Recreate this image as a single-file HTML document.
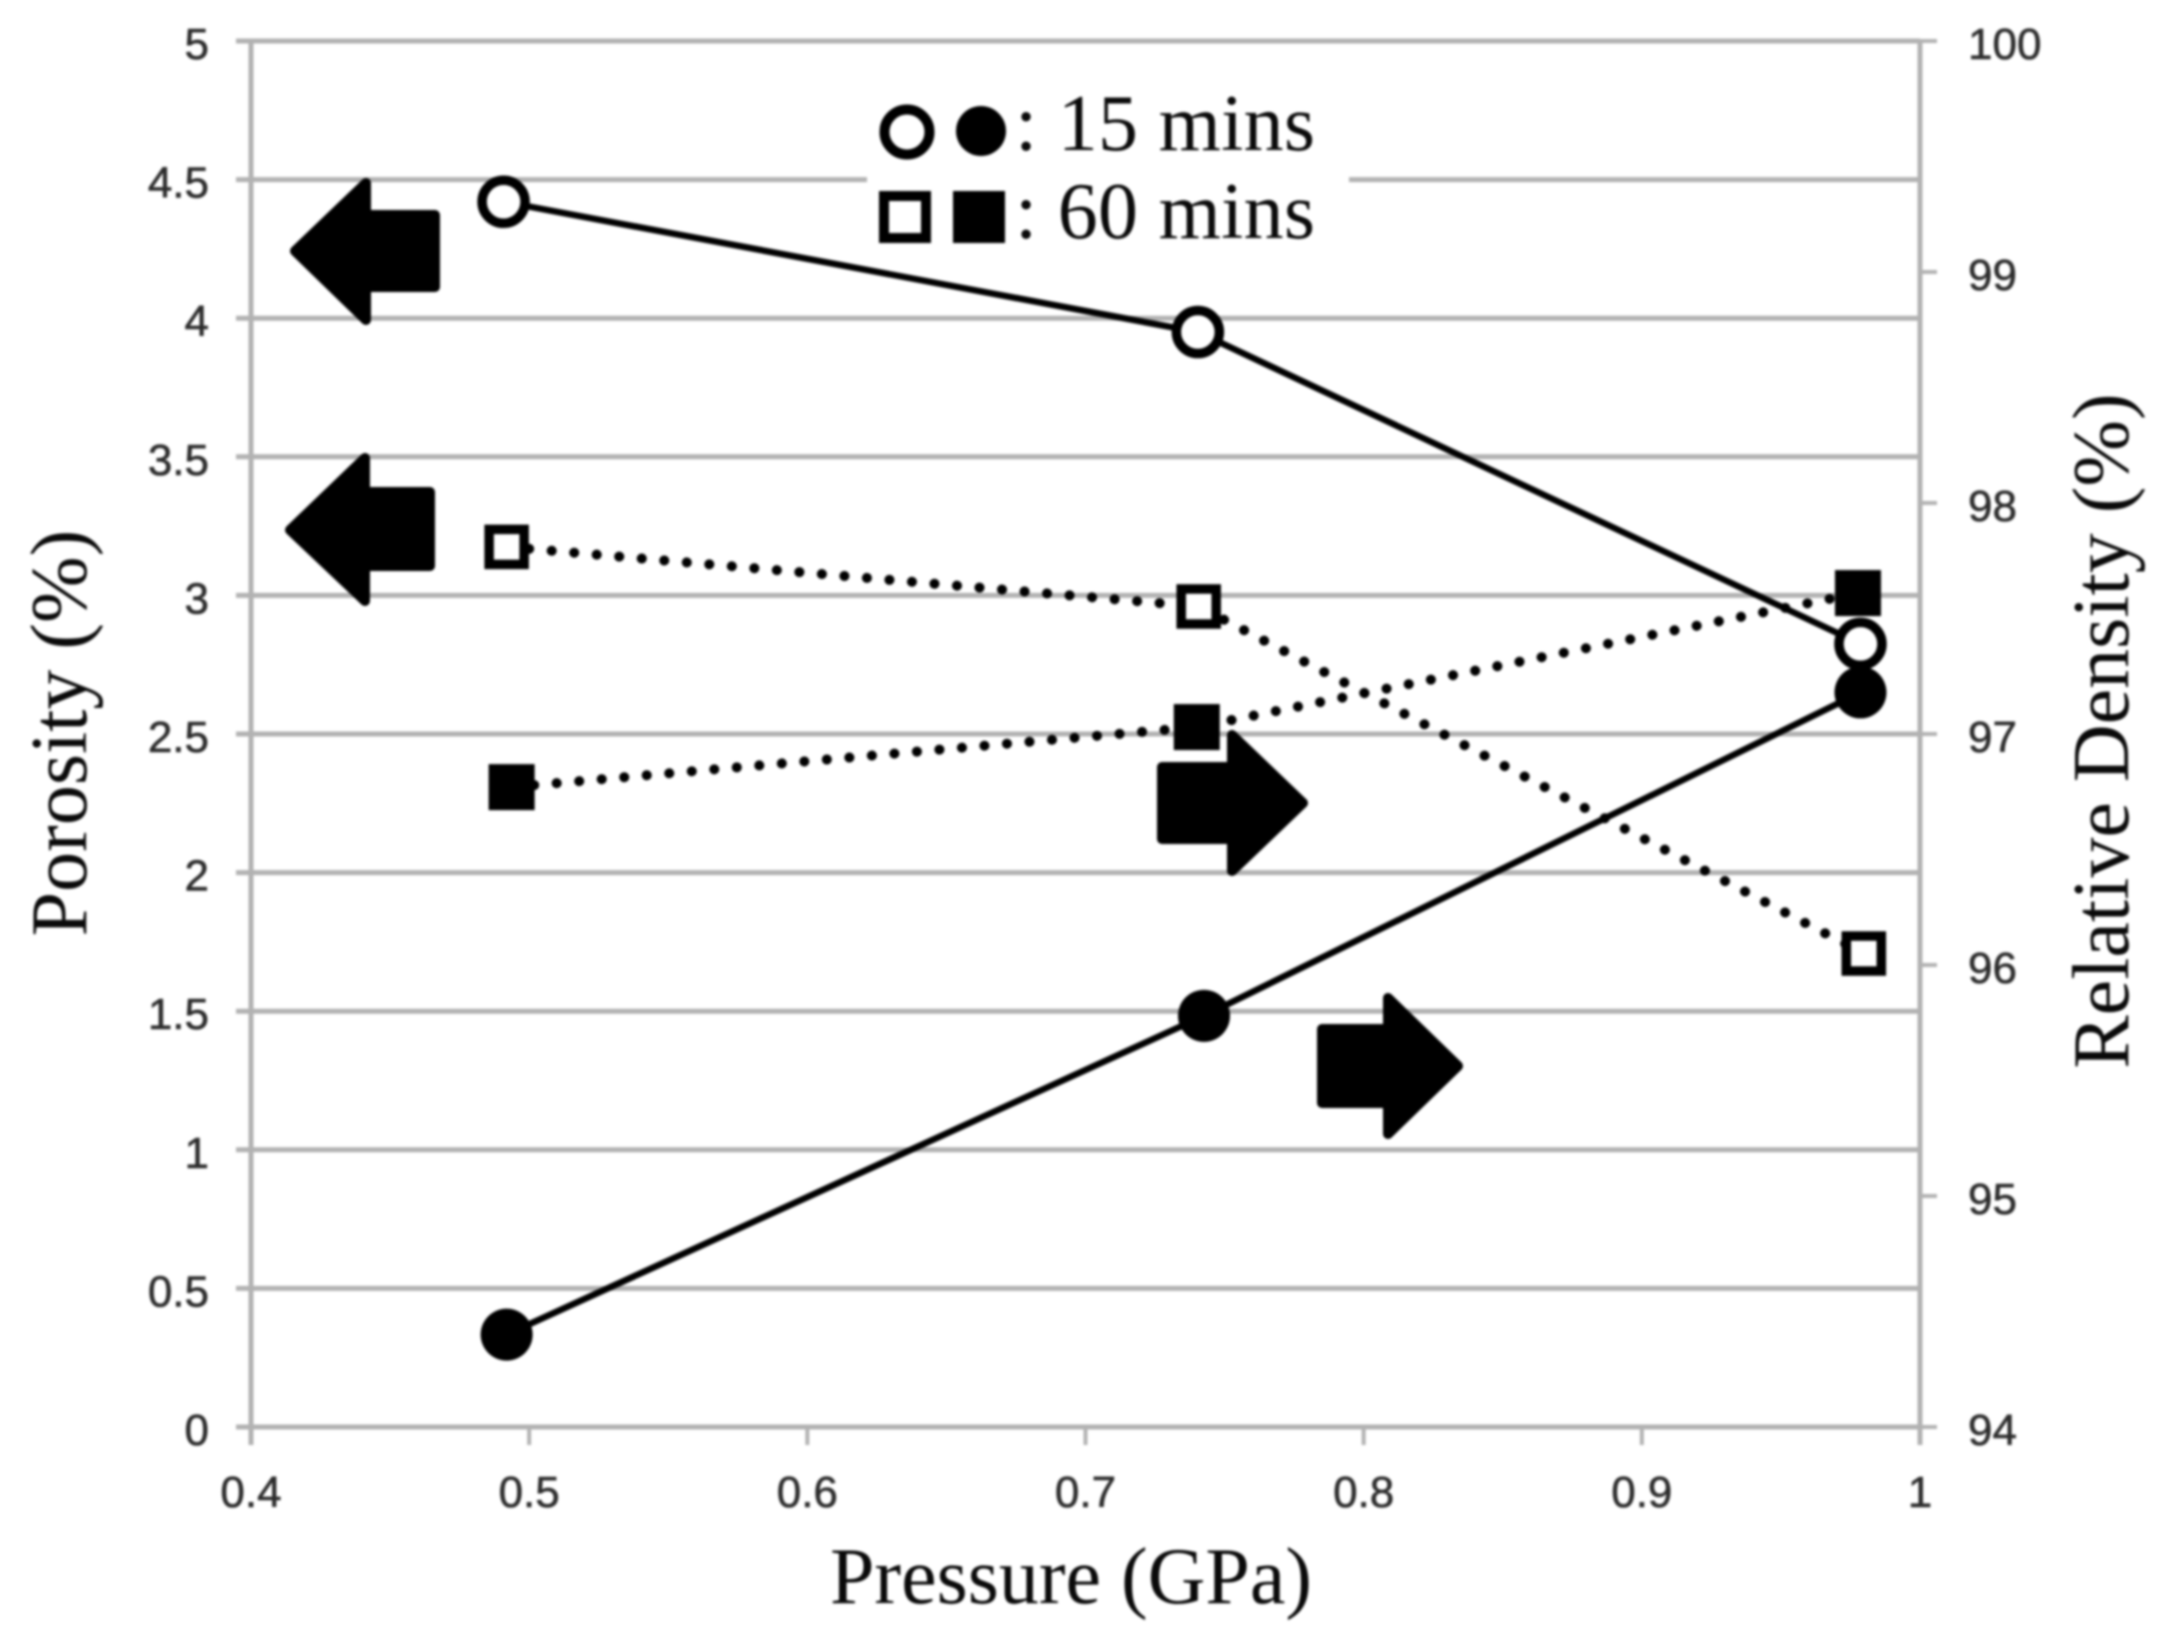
<!DOCTYPE html>
<html lang="en">
<head>
<meta charset="utf-8">
<title>Porosity and Relative Density vs Pressure</title>
<style>
html,body{margin:0;padding:0;background:#fff;}
body{width:2180px;height:1644px;overflow:hidden;}
#chart{display:block;filter:blur(1.2px);}
.tick-label{font-family:"Liberation Sans",sans-serif;font-size:44px;fill:#2c2c2c;stroke:#2c2c2c;stroke-width:0.6px;}
.serif{font-family:"Liberation Serif",serif;font-size:80px;fill:#0a0a0a;}
</style>
</head>
<body>
<svg id="chart" xmlns="http://www.w3.org/2000/svg" width="2180" height="1644" viewBox="0 0 2180 1644">
<rect x="0" y="0" width="2180" height="1644" fill="#fff"/>
<g id="grid"></g>
<g id="axes"></g>
<g id="labels"></g>
<g id="series"></g>

<g fill="#000" stroke="#000" stroke-width="10" stroke-linejoin="round">
<polygon points="295,251 366,183 366,215 435,215 435,287 366,287 366,320"/>
<polygon points="290,530 365,458 365,492 430,492 430,566 365,566 365,601"/>
<polygon points="1303,803 1232,735 1232,767 1162,767 1162,839 1232,839 1232,871"/>
<polygon points="1458,1066 1388,998 1388,1029 1322,1029 1322,1103 1388,1103 1388,1134"/>
</g>

<g>
<circle cx="907" cy="132" r="22.5" fill="#fff" stroke="#000" stroke-width="10"/>
<circle cx="981" cy="131" r="25" fill="#000"/>
<text class="serif" x="1015" y="150" textLength="300" lengthAdjust="spacing">: 15 mins</text>
<rect x="884" y="196" width="42" height="42" fill="#fff" stroke="#000" stroke-width="10"/>
<rect x="953" y="191" width="52" height="52" fill="#000"/>
<text class="serif" x="1015" y="238" textLength="300" lengthAdjust="spacing">: 60 mins</text>
</g>

<text class="serif" x="1071" y="1603" text-anchor="middle">Pressure (GPa)</text>
<text class="serif" text-anchor="middle" transform="translate(86,733) rotate(-90)">Porosity (%)</text>
<text class="serif" text-anchor="middle" transform="translate(2128,731) rotate(-90)">Relative Density (%)</text>
</svg>

<script>
// Axis tick labels
const xTickLabels = ["0.4", "0.5", "0.6", "0.7", "0.8", "0.9", "1"];
const xTickValues = [0.4, 0.5, 0.6, 0.7, 0.8, 0.9, 1];
const leftTickLabels = ["0", "0.5", "1", "1.5", "2", "2.5", "3", "3.5", "4", "4.5", "5"];
const leftTickValues = [0, 0.5, 1, 1.5, 2, 2.5, 3, 3.5, 4, 4.5, 5];
const rightTickLabels = ["94", "95", "96", "97", "98", "99", "100"];
const rightTickValues = [94, 95, 96, 97, 98, 99, 100];

// Series: pressure (GPa) and reading
const porosity15Pressure = [0.4908, 0.7404, 0.9786];
const porosity15Values = [4.42, 3.95, 2.825];
const porosity60Pressure = [0.4919, 0.7407, 0.9798];
const porosity60Values = [3.175, 2.96, 1.708];
const density15Pressure = [0.4919, 0.7426, 0.9786];
const density15Values = [94.4, 95.78, 97.18];
const density60Pressure = [0.4937, 0.74, 0.9777];
const density60Values = [96.77, 97.03, 97.61];

const svgNS = "http://www.w3.org/2000/svg";
const plotLeft = 251, plotRight = 1920, plotTop = 41, plotBottom = 1427;
const xMin = 0.4, xMax = 1, leftMin = 0, leftMax = 5, rightMin = 94, rightMax = 100;

function xScale(v){ return plotLeft + (v - xMin) / (xMax - xMin) * (plotRight - plotLeft); }
function yLeft(v){ return plotBottom - (v - leftMin) / (leftMax - leftMin) * (plotBottom - plotTop); }
function yRight(v){ return plotBottom - (v - rightMin) / (rightMax - rightMin) * (plotBottom - plotTop); }

function make(tag, parent, attrs){
  const el = document.createElementNS(svgNS, tag);
  for (const k in attrs) el.setAttribute(k, attrs[k]);
  parent.appendChild(el);
  return el;
}

const grid = document.getElementById("grid");
const axes = document.getElementById("axes");
const labels = document.getElementById("labels");
const seriesGroup = document.getElementById("series");
const gridColor = "#b2b2b2";
const legendGapStart = 867, legendGapEnd = 1349;

leftTickValues.forEach(function(v, i){
  const y = yLeft(v);
  if (v === 4.5) {
    const a = make("line", grid, {x1: 236, x2: legendGapStart, y1: y, y2: y, stroke: gridColor, "stroke-width": 5});
    
    
    const b = make("line", grid, {x1: legendGapEnd, x2: plotRight, y1: y, y2: y, stroke: gridColor, "stroke-width": 5});
    
    
  } else {
    const g = make("line", grid, {x1: 236, x2: plotRight, y1: y, y2: y, stroke: gridColor, "stroke-width": 5});
    
    
  }
  const t = make("text", labels, {x: 209, y: y + 18, "text-anchor": "end", "class": "tick-label"});
  t.textContent = leftTickLabels[i];
  
  
});

const leftAxis = make("line", axes, {x1: plotLeft, x2: plotLeft, y1: plotTop - 2, y2: plotBottom + 18, stroke: gridColor, "stroke-width": 5});


const rightAxis = make("line", axes, {x1: plotRight, x2: plotRight, y1: plotTop - 2, y2: plotBottom + 18, stroke: gridColor, "stroke-width": 5});



xTickValues.forEach(function(v, i){
  const x = xScale(v);
  const tick = make("line", axes, {x1: x, x2: x, y1: plotBottom, y2: plotBottom + 18, stroke: gridColor, "stroke-width": 4});
  
  
  const t = make("text", labels, {x: x, y: 1507, "text-anchor": "middle", "class": "tick-label"});
  t.textContent = xTickLabels[i];
  
  
});

rightTickValues.forEach(function(v, i){
  const y = yRight(v);
  const tick = make("line", axes, {x1: plotRight, x2: plotRight + 17, y1: y, y2: y, stroke: gridColor, "stroke-width": 4});
  
  
  const t = make("text", labels, {x: 1968, y: y + 18, "class": "tick-label"});
  t.textContent = rightTickLabels[i];
  
  
});

function linePoints(xs, ys, yFn){
  return xs.map(function(x, i){ return xScale(x).toFixed(1) + "," + yFn(ys[i]).toFixed(1); }).join(" ");
}

function drawLine(xs, ys, yFn, dotted){
  const attrs = {points: linePoints(xs, ys, yFn), fill: "none", stroke: "#000", "stroke-linejoin": "round"};
  if (dotted) {
    attrs["stroke-width"] = 10;
    attrs["stroke-dasharray"] = "0.1 22.5";
    attrs["stroke-linecap"] = "round";
  } else {
    attrs["stroke-width"] = 6.5;
  }
  return make("polyline", seriesGroup, attrs);
}

const lineA = drawLine(porosity15Pressure, porosity15Values, yLeft, false);


const lineB = drawLine(density15Pressure, density15Values, yRight, false);


const lineC = drawLine(porosity60Pressure, porosity60Values, yLeft, true);


const lineD = drawLine(density60Pressure, density60Values, yRight, true);



density60Pressure.forEach(function(p, i){
  const x = xScale(p), y = yRight(density60Values[i]);
  const m = make("rect", seriesGroup, {x: x - 23, y: y - 23, width: 46, height: 46, fill: "#000"});
  
  
});
density15Pressure.forEach(function(p, i){
  const m = make("circle", seriesGroup, {cx: xScale(p), cy: yRight(density15Values[i]), r: 26, fill: "#000"});
  
  
});
porosity15Pressure.forEach(function(p, i){
  const m = make("circle", seriesGroup, {cx: xScale(p), cy: yLeft(porosity15Values[i]), r: 21.5, fill: "#fff", stroke: "#000", "stroke-width": 9.5});
  
  
});
porosity60Pressure.forEach(function(p, i){
  const x = xScale(p), y = yLeft(porosity60Values[i]);
  const m = make("rect", seriesGroup, {x: x - 17.5, y: y - 17.5, width: 35, height: 35, fill: "#fff", stroke: "#000", "stroke-width": 9.5});
  
  
});
</script>
</body>
</html>
